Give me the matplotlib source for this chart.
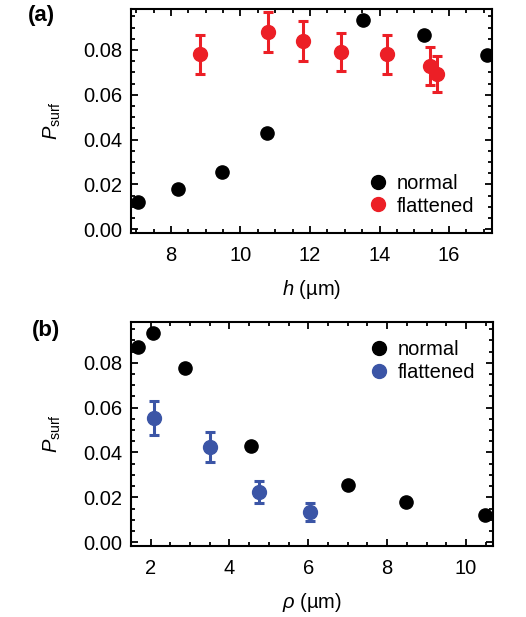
import matplotlib
matplotlib.use("Agg")
import matplotlib.pyplot as plt
from matplotlib.ticker import MultipleLocator
from matplotlib.lines import Line2D

plt.rcParams['font.family'] = ['Liberation Sans', 'DejaVu Sans']
plt.rcParams['mathtext.fontset'] = 'custom'
plt.rcParams['mathtext.rm'] = 'Liberation Sans'
plt.rcParams['mathtext.it'] = 'Liberation Sans:italic'
plt.rcParams['mathtext.bf'] = 'Liberation Sans:bold'

# Panel (a): P_surf vs h
h_normal = [7.06, 8.21, 9.47, 10.75, 13.53, 15.27, 17.10]
p_normal = [0.0120, 0.0180, 0.0256, 0.0431, 0.0934, 0.0868, 0.0777]
h_flat = [8.83, 10.79, 11.80, 12.90, 14.22, 15.45, 15.66]
p_flat_a = [0.0782, 0.0880, 0.0841, 0.0792, 0.0780, 0.0730, 0.0693]
err_flat_a = [0.0087, 0.0091, 0.0090, 0.0086, 0.0087, 0.0085, 0.0080]

# Panel (b): P_surf vs rho
rho_normal = [10.48, 8.47, 7.00, 4.54, 2.07, 1.69, 2.87]
rho_flat = [2.08, 3.50, 4.75, 6.04]
p_flat_b = [0.0552, 0.0423, 0.0223, 0.0134]
err_flat_b = [0.0076, 0.0067, 0.0050, 0.0039]

red = '#ec1f26'
blue = '#3b55a6'
FS = 14.5

fig = plt.figure(figsize=(5.26, 6.17), dpi=100)
axa = fig.add_axes([0.249, 0.6224, 0.686, 0.363])
axb = fig.add_axes([0.249, 0.1151, 0.6877, 0.3635])

def style(ax):
    for s in ax.spines.values():
        s.set_linewidth(1.5)
    ax.tick_params(which='both', direction='in', top=True, right=True,
                   labelsize=FS, width=1.3)
    ax.tick_params(which='major', length=5)
    ax.tick_params(which='minor', length=3)
    ax.tick_params(axis='x', which='both', pad=9.5)
    ax.tick_params(axis='y', which='both', pad=6.5)
    ax.yaxis.set_major_locator(MultipleLocator(0.02))
    ax.yaxis.set_minor_locator(MultipleLocator(0.005))
    ax.xaxis.set_minor_locator(MultipleLocator(0.5))
    ax.yaxis.set_major_formatter(matplotlib.ticker.FormatStrFormatter('%.2f'))
    ax.set_ylim(-0.0017, 0.0983)
    ax.set_ylabel(r'$P_{\rm surf}$', fontsize=FS, labelpad=14)

def legend(ax, color, **kw):
    handles = [Line2D([], [], ls='none', marker='o', color='black', ms=10),
               Line2D([], [], ls='none', marker='o', color=color, ms=10)]
    ax.legend(handles, ['normal', 'flattened'], frameon=False, fontsize=FS,
              handletextpad=0.3, labelspacing=0.18, handlelength=1.2,
              borderpad=0.2, **kw)

# (a)
axa.plot(h_normal, p_normal, 'o', color='black', ms=9.5, zorder=3)
axa.errorbar(h_flat, p_flat_a, yerr=err_flat_a, fmt='o', color=red, ms=10,
             elinewidth=2.2, capsize=3.5, capthick=2.2, zorder=3)
axa.set_xlim(6.85, 17.23)
axa.xaxis.set_major_locator(MultipleLocator(2))
style(axa)
axa.set_xlabel(r'$h$ (µm)', fontsize=FS, labelpad=9)
legend(axa, red, loc='lower right', bbox_to_anchor=(0.99, 0.015))

# (b)
axb.plot(rho_normal, p_normal, 'o', color='black', ms=9.5, zorder=3)
axb.errorbar(rho_flat, p_flat_b, yerr=err_flat_b, fmt='o', color=blue, ms=10,
             elinewidth=2.2, capsize=3.5, capthick=2.2, zorder=3)
axb.set_xlim(1.5, 10.68)
axb.xaxis.set_major_locator(MultipleLocator(2))
style(axb)
axb.set_xlabel(r'$\rho$ (µm)', fontsize=FS, labelpad=9)
legend(axb, blue, loc='upper right', bbox_to_anchor=(0.99, 0.98))

fig.text(0.053, 0.975, '(a)', fontsize=16, fontweight='bold', va='center', ha='left')
fig.text(0.06, 0.465, '(b)', fontsize=16, fontweight='bold', va='center', ha='left')

fig.savefig('out.png', dpi=100)
